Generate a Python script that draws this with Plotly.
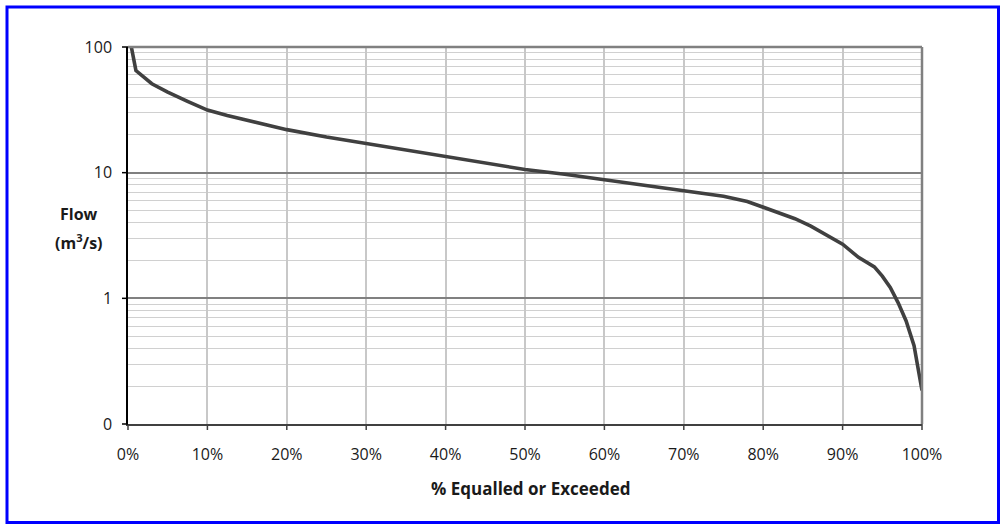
import math
import plotly.graph_objects as go

# Flow duration curve: percent of time a flow is equalled or exceeded
pct_exceeded = [0, 1, 3, 5, 7.5, 10, 12.5, 15, 17.5, 20, 25, 30, 35, 40, 45, 50,
                55, 60, 65, 70, 75, 78, 80, 82, 84, 86, 88, 90, 92, 94, 95, 96,
                97, 98, 99, 100]
flow_m3s = [137, 65, 51, 43.8, 37, 31.5, 28.5, 26, 23.8, 22, 19.2, 17.1, 15.1,
            13.4, 11.9, 10.6, 9.7, 8.8, 7.9, 7.2, 6.5, 5.9, 5.3, 4.8, 4.3, 3.75,
            3.2, 2.7, 2.12, 1.78, 1.5, 1.22, 0.92, 0.66, 0.42, 0.185]

y_tick_vals = [0.1, 1, 10, 100]
y_tick_text = ["0", "1", "10", "100"]
x_tick_vals = list(range(0, 101, 10))
x_tick_text = [f"{v}%" for v in x_tick_vals]

X_RANGE = [0, 100]
Y_RANGE_LOG = [-1, 2]

# minor log grid lines (2..9 in each decade)
minor_vals = [m * d for d in (0.1, 1, 10) for m in range(2, 10)]

FONT = "Open Sans"
TXT = "#1a1a1a"
W, H = 1005, 525
L, R, T, B = 128, 83, 47, 101
pw, ph = W - L - R, H - T - B
TICK = 6  # tick mark length in px


def px_x(v):
    return (v - L) / pw


def px_y(v):
    return 1 - (v - T) / ph


def x_frac(v):
    return (v - X_RANGE[0]) / (X_RANGE[1] - X_RANGE[0])


def y_frac(v):
    return (math.log10(v) - Y_RANGE_LOG[0]) / (Y_RANGE_LOG[1] - Y_RANGE_LOG[0])


fig = go.Figure()
fig.add_trace(go.Scatter(
    x=pct_exceeded, y=flow_m3s, mode="lines",
    line=dict(color="#404040", width=3.6),
    hoverinfo="x+y", showlegend=False,
))

# outside tick marks at the axis tick values
tick_shapes = [
    dict(type="line", xref="paper", yref="paper",
         x0=x_frac(v), x1=x_frac(v), y0=0, y1=-TICK / ph,
         line=dict(color="#404040", width=1.5), layer="above")
    for v in x_tick_vals
] + [
    dict(type="line", xref="paper", yref="paper", x0=-TICK / pw, x1=0,
         y0=y_frac(v), y1=y_frac(v),
         line=dict(color="#000000", width=1.5), layer="above")
    for v in y_tick_vals
]

fig.update_layout(
    width=W, height=H,
    margin=dict(l=L, r=R, t=T, b=B, pad=0),
    paper_bgcolor="white", plot_bgcolor="white",
    font=dict(family=FONT, size=16, color=TXT),
    xaxis=dict(
        range=X_RANGE, tickvals=x_tick_vals, ticktext=x_tick_text,
        showgrid=True, gridcolor="#c8c8c8", gridwidth=2,
        showline=True, linecolor="#404040", linewidth=2,
        ticks="", ticklabelstandoff=15,
        zeroline=False, fixedrange=True,
        tickfont=dict(family=FONT, size=16, color=TXT),
    ),
    yaxis=dict(
        type="log", range=Y_RANGE_LOG,
        tickvals=y_tick_vals, ticktext=y_tick_text,
        showgrid=True, gridcolor="#808080", gridwidth=2,
        minor=dict(tickvals=minor_vals, showgrid=True,
                   gridcolor="#d0d0d0", gridwidth=1, ticklen=0),
        showline=True, linecolor="#000000", linewidth=1.5,
        ticks="", ticklabelstandoff=11,
        zeroline=False, fixedrange=True,
        tickfont=dict(family=FONT, size=16, color=TXT),
    ),
    shapes=[
        # top and right frame of the plot area
        dict(type="line", xref="paper", yref="paper", x0=0, x1=1, y0=1, y1=1,
             line=dict(color="#808080", width=2.5)),
        dict(type="line", xref="paper", yref="paper", x0=1, x1=1, y0=0, y1=1,
             line=dict(color="#808080", width=2.5)),
        # blue outer border
        dict(type="rect", xref="paper", yref="paper",
             x0=px_x(7), x1=px_x(998.5), y0=px_y(522.5), y1=px_y(7),
             line=dict(color="#0000ff", width=3), layer="above"),
    ] + tick_shapes,
    annotations=[
        dict(text="<b>Flow</b>", xref="paper", yref="paper",
             x=px_x(79), y=px_y(214), xanchor="center", yanchor="middle",
             showarrow=False, font=dict(family=FONT, size=16, color=TXT)),
        dict(text="<b>(m<sup>3</sup>/s)</b>", xref="paper", yref="paper",
             x=px_x(79), y=px_y(242), xanchor="center", yanchor="middle",
             showarrow=False, font=dict(family=FONT, size=16, color=TXT)),
        dict(text="<b>% Equalled or Exceeded</b>", xref="paper", yref="paper",
             x=px_x(530), y=px_y(488), xanchor="center", yanchor="middle",
             showarrow=False, font=dict(family=FONT, size=17, color=TXT)),
    ],
)

fig.write_html("out.html")
